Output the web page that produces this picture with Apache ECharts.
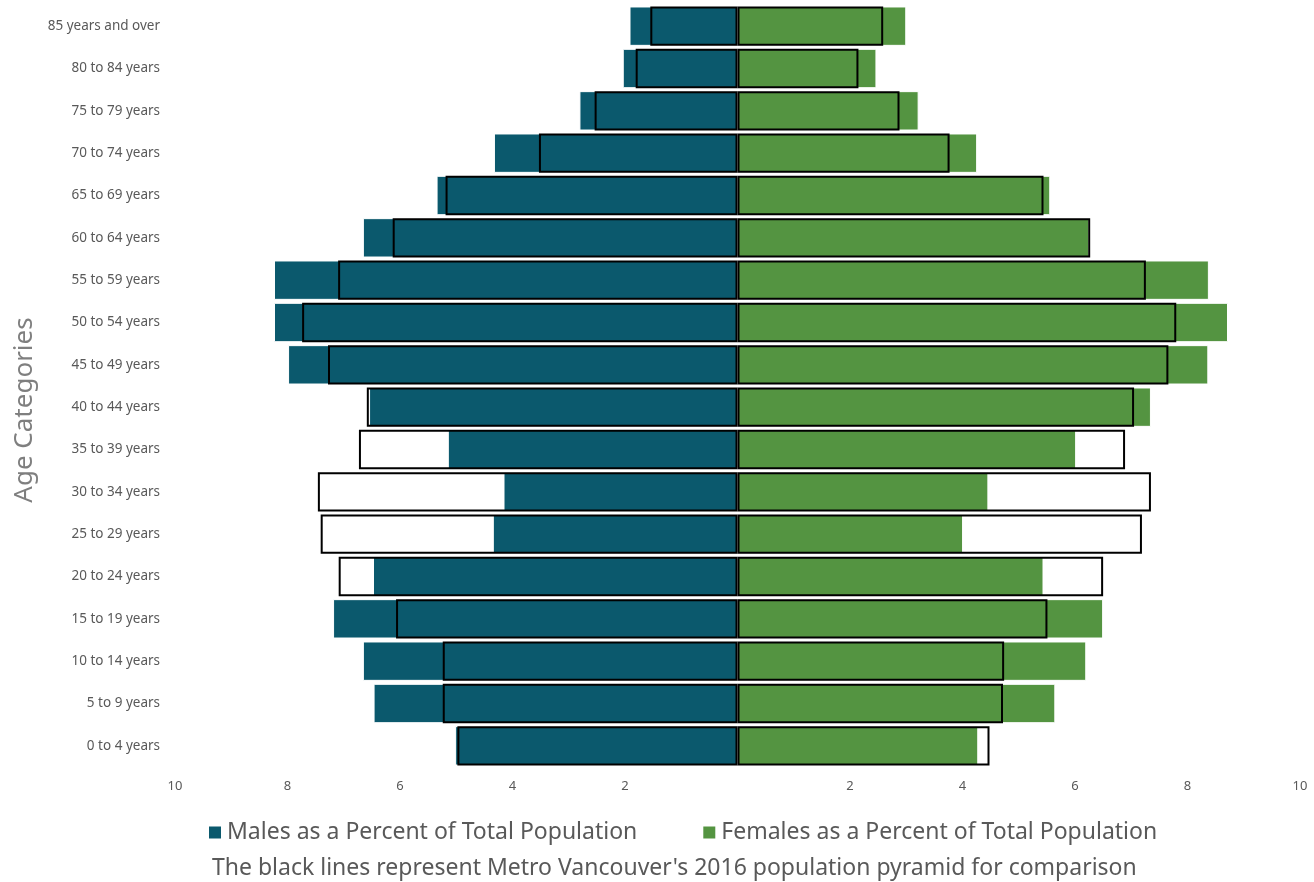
<!DOCTYPE html>
<html>
<head>
<meta charset="utf-8">
<script src="https://cdn.jsdelivr.net/npm/echarts@6/dist/echarts.min.js"></script>
<style>
  html, body { margin: 0; padding: 0; background: #fff; }
  #pyramid { width: 1314px; height: 882px; }
</style>
</head>
<body>
<div id="pyramid"></div>
<script type="text/javascript">
// age groups, bottom to top
var ageGroups = ['0 to 4 years', '5 to 9 years', '10 to 14 years', '15 to 19 years', '20 to 24 years',
  '25 to 29 years', '30 to 34 years', '35 to 39 years', '40 to 44 years', '45 to 49 years',
  '50 to 54 years', '55 to 59 years', '60 to 64 years', '65 to 69 years', '70 to 74 years',
  '75 to 79 years', '80 to 84 years', '85 years and over'];

// percent of total population (filled bars)
var malesPct = [5.02, 6.47, 6.66, 7.19, 6.48, 4.35, 4.16, 5.15, 6.55, 7.99, 8.24, 8.24, 6.66, 5.35, 4.33, 2.81, 2.04, 1.92];
var femalesPct = [4.28, 5.65, 6.20, 6.50, 5.44, 4.01, 4.46, 6.02, 7.35, 8.37, 8.72, 8.38, 6.25, 5.56, 4.26, 3.22, 2.47, 3.00];

// Metro Vancouver 2016 (black outlines)
var malesMV2016 = [4.98, 5.24, 5.24, 6.07, 7.09, 7.41, 7.46, 6.73, 6.59, 7.28, 7.74, 7.10, 6.13, 5.19, 3.53, 2.54, 1.81, 1.55];
var femalesMV2016 = [4.48, 4.72, 4.74, 5.51, 6.50, 7.19, 7.35, 6.89, 7.05, 7.66, 7.80, 7.26, 6.27, 5.44, 3.77, 2.88, 2.15, 2.59];

var xTicks = { min: -10, max: 10, step: 2 };

var FONT = 'Noto Sans';
var GREY = '#595959';

function neg(arr) {
  return arr.map(function (v) { return -v; });
}

var myChart = echarts.init(document.getElementById('pyramid'));
var option = {
  animation: false,
  textStyle: { fontFamily: FONT },
  grid: { left: 175, right: 14, top: 5, bottom: 115 },
  title: {
    text: "The black lines represent Metro Vancouver's 2016 population pyramid for comparison",
    left: 212,
    top: 857,
    padding: 0,
    textStyle: { fontFamily: FONT, fontSize: 23, fontWeight: 'normal', color: GREY }
  },
  legend: {
    data: ['Males as a Percent of Total Population', 'Females as a Percent of Total Population'],
    left: 202,
    top: 816,
    itemWidth: 14,
    itemHeight: 14,
    itemGap: 64,
    icon: 'rect',
    textStyle: { fontFamily: FONT, fontSize: 23, color: GREY }
  },
  graphic: [{
    type: 'text',
    x: 25,
    y: 410,
    rotation: Math.PI / 2,
    style: {
      text: 'Age Categories',
      fontFamily: FONT,
      fontSize: 26,
      fill: '#7f7f7f',
      align: 'center',
      verticalAlign: 'middle'
    }
  }],
  xAxis: [{
    type: 'value',
    min: xTicks.min,
    max: xTicks.max,
    interval: xTicks.step,
    axisLine: { show: false },
    axisTick: { show: false },
    splitLine: { show: false },
    axisLabel: {
      margin: 13,
      fontSize: 13,
      color: GREY,
      formatter: function (v) { return v === 0 ? '' : String(Math.abs(v)); }
    }
  }],
  yAxis: [{
    type: 'category',
    data: ageGroups,
    axisLine: { show: false },
    axisTick: { show: false },
    axisLabel: { margin: 15, fontSize: 13.5, color: GREY }
  }],
  series: [{
    name: 'Males as a Percent of Total Population',
    type: 'bar',
    data: neg(malesPct),
    barCategoryGap: '7%',
    barGap: '-100%',
    itemStyle: { color: '#0b596d', borderColor: '#ffffff', borderWidth: 1 }
  }, {
    name: 'Females as a Percent of Total Population',
    type: 'bar',
    data: femalesPct,
    barCategoryGap: '7%',
    barGap: '-100%',
    itemStyle: { color: '#549441', borderColor: '#ffffff', borderWidth: 1 }
  }, {
    name: 'Metro Vancouver 2016 males',
    type: 'bar',
    data: neg(malesMV2016),
    barCategoryGap: '7%',
    barGap: '-100%',
    itemStyle: { color: 'rgba(0,0,0,0)', borderColor: '#000000', borderWidth: 2 }
  }, {
    name: 'Metro Vancouver 2016 females',
    type: 'bar',
    data: femalesMV2016,
    barCategoryGap: '7%',
    barGap: '-100%',
    itemStyle: { color: 'rgba(0,0,0,0)', borderColor: '#000000', borderWidth: 2 }
  }]
};
myChart.setOption(option);
</script>
</body>
</html>
